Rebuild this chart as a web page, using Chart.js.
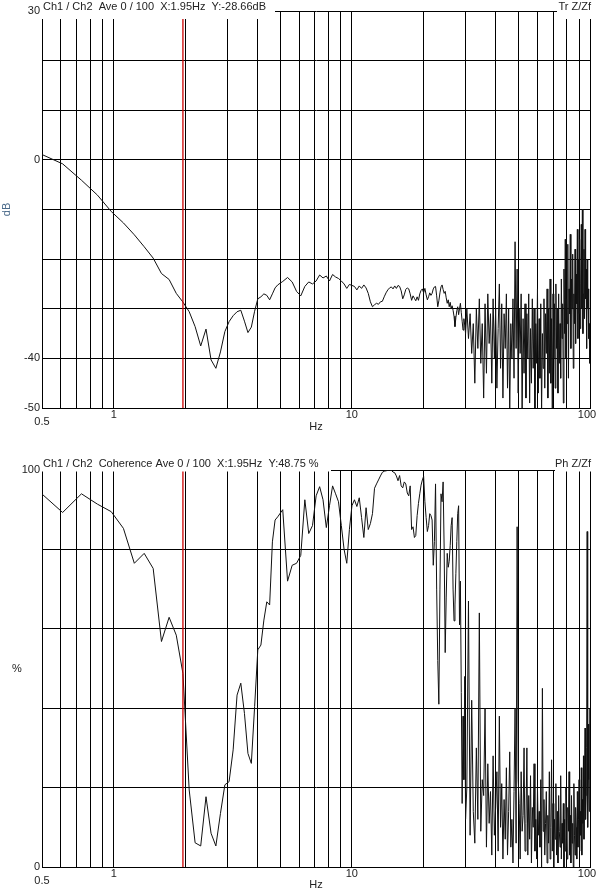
<!DOCTYPE html>
<html><head><meta charset="utf-8">
<script src="https://cdn.jsdelivr.net/npm/chart.js@4/dist/chart.umd.min.js"></script>
<style>
html,body{margin:0;padding:0;background:#fff;overflow:hidden;}
#wrap{position:relative;width:597px;height:892px;}
canvas{position:absolute;left:0;}
#c1{top:0;} #c2{top:445px;}
</style></head><body>
<div id="wrap"><canvas id="c1" width="597" height="445"></canvas><canvas id="c2" width="597" height="447"></canvas></div>
<script>
// FFT bin width (Hz) and the bin segments the values were read at
const DF = 0.1220703125;
const SEG_A = {startBin: 4, step: 1};
const SEG_B = {startBin: 42, step: 2};
const SEG_C = {startBin: 249, step: 4};
const CURSOR_HZ = 16 * DF; // 1.95 Hz

// Transfer function magnitude (dB)
const magA = [1.3, -0.8, -4.1, -7.1, -10.4, -12.7, -15.1, -17.5, -19.8, -22.9, -24.1, -26.9, -28.66, -30.6, -33.6, -37.5, -34.1, -40.3, -42.0, -38.7, -34.6, -32.6, -31.4, -30.6, -30.3, -32.5, -34.8, -33.7, -30.5, -28.0, -27.6, -27.0, -27.3, -28.2, -27.0, -25.8, -25.2];
const magB = [-24.5, -23.7, -24.6, -26.5, -27.4, -25.5, -24.6, -25.0, -24.4, -23.2,
  -23.8, -23.4, -24.4, -23.1, -23.6, -23.9, -24.4, -25.0, -25.9, -25.1,
  -25.3, -25.5, -26.2, -25.4, -25.9, -25.2, -25.8, -26.9, -28.6, -29.6,
  -29.2, -28.9, -29.1, -28.6, -28.5, -27.6, -26.8, -26.2, -25.8, -25.6,
  -26.0, -25.4, -25.9, -25.3, -25.5, -26.4, -28.0, -27.2, -26.1, -25.8,
  -26.0, -27.0, -28.3, -27.4, -27.9, -28.4, -27.6, -28.3, -27.0, -26.3,
  -26.0, -26.8, -25.9, -27.2, -28.2, -27.6, -26.8, -27.3, -26.9, -26.0,
  -25.6, -25.5, -27.4, -29.6, -28.4, -26.8, -25.6, -25.2, -26.1, -26.9,
  -26.5, -27.8, -28.9, -28.2, -29.6, -28.7, -30.0, -29.4, -30.3, -31.5,
  -33.6, -31.8, -30.4, -29.6, -31.2, -30.0, -28.9, -30.8, -32.5, -34.3,
  -32.0, -33.3, -35.0];
const magC = [-30, -36, -31, -39, -33, -45, -30, -38, -28, -41, -33, -48,
  -29, -43, -27, -37, -31, -45, -28, -40, -30, -46, -34, -25,
  -42, -29, -48, -31, -38, -27, -46, -30, -51, -33, -40, -28,
  -44, -16.5, -38, -22, -47, -30, -39, -27, -51, -32, -43, -29,
  -48, -31, -40, -27, -49, -34, -45, -28, -42, -30, -51, -33,
  -41, -26, -47, -32, -44, -29, -51, -35, -42, -28, -46, -31,
  -39, -26, -48, -30, -43, -24, -45, -32, -51, -27, -40, -29,
  -46, -25, -38, -30, -47, -27, -41, -33, -44, -24, -36, -29,
  -49, -22, -35, -16, -40, -28, -33, -17, -44, -26, -31, -15,
  -38, -24, -30, -19, -42, -27, -33, -18, -37, -23, -29, -14,
  -36, -20, -31, -16, -34, -25, -13, -30, -10, -35, -27, -18,
  -32, -14, -28, -22, -38, -20, -30, -26, -36, -33, -41];

// Coherence (%)
const cohA = [94.5, 89.3, 94.0, 91.4, 89.5, 85.3, 76.5, 79.0, 75.2, 56.8, 62.9, 58.4, 48.75, 19.4, 6.1, 5.3, 17.7, 8.5, 5.3, 13.5, 20.7, 21.5, 29.5, 43.3, 46.3, 38.7, 28.6, 26.1, 40.4, 54.7, 55.9, 62.2, 66.8, 66.0, 81.9, 87.4, 88.2];
const cohB = [90.0, 72.0, 76.0, 76.5, 78.5, 92.5, 84.0, 86.0, 93.5, 95.8,
  92.5, 85.5, 91.0, 96.0, 94.0, 92.0, 86.0, 80.0, 76.5, 85.0,
  91.0, 92.5, 90.8, 93.0, 88.0, 83.0, 90.5, 85.0, 86.5, 89.0,
  95.4, 96.5, 97.5, 98.5, 99.4, 99.7, 99.8, 99.9, 100.0, 99.9,
  99.5, 99.3, 98.5, 97.3, 98.6, 96.0, 95.5, 97.0, 96.5, 94.2,
  93.5, 96.0, 85.0, 85.7, 83.0, 83.5, 88.5, 91.6, 94.0, 96.2,
  97.5, 98.4, 92.0, 88.0, 84.5, 86.0, 89.0, 88.5, 87.4, 76.0,
  82.0, 96.5, 70.0, 52.0, 41.0, 70.0, 94.0, 92.0, 97.0, 80.0,
  54.0, 68.0, 79.0, 75.5, 77.0, 81.0, 86.0, 88.0, 70.0, 62.0,
  66.0, 74.0, 82.0, 89.0, 91.0, 61.0, 72.0, 44.0, 16.0, 38.0,
  22.0, 48.0, 12.0];
const cohC = [20, 67, 8, 42, 14, 6, 30, 12, 64, 9, 22, 18,
  40, 5, 26, 11, 19, 3, 28, 8, 15, 24, 4, 38,
  10, 21, 2, 17, 7, 25, 3, 14, 29, 5, 12, 1,
  19, 40, 6, 85.7, 22, 16, 2, 24, 9, 13, 30, 4,
  11, 30, 3, 18, 7, 23, 1, 15, 10, 26, 4, 12,
  2, 20, 8, 14, 5, 22, 0, 45, 9, 17, 3, 11,
  19, 1, 13, 6, 24, 2, 10, 27, 4, 16, 0, 12,
  7, 21, 3, 14, 1, 18, 9, 5, 23, 2, 11, 6,
  16, 0, 12, 4, 20, 7, 2, 15, 9, 24, 3, 13,
  1, 18, 6, 11, 0, 21, 8, 3, 15, 10, 2, 19,
  5, 12, 22, 4, 14, 8, 25, 3, 17, 11, 28, 7,
  20, 35, 12, 18, 30, 84.5, 10, 36, 22, 14, 40];

// Axis ticks
const xTicks = [0.5, 0.6, 0.7, 0.8, 0.9, 1, 2, 3, 4, 5, 6, 7, 8, 9, 10, 20, 30, 40, 50, 60, 70, 80, 90, 100];
const xLabelled = [0.5, 1, 10, 100];
const magTicks = [-50, -40, -30, -20, -10, 0, 10, 20, 30];
const magLabelled = [30, 0, -40, -50];
const cohTicks = [0, 20, 40, 60, 80, 100];
const cohLabelled = [100, 0];

function toPoints(segs) {
  const pts = [];
  segs.forEach(([seg, vals]) => vals.forEach((v, i) => pts.push({x: (seg.startBin + i * seg.step) * DF, y: v})));
  return pts;
}

const FONT = '"Liberation Sans", Arial, sans-serif';

const overlay = {
  id: 'overlay',
  afterDraw(chart, args, o) {
    const ctx = chart.ctx, ca = chart.chartArea;
    const cx = chart.scales.x.getPixelForValue(CURSOR_HZ);
    ctx.save();
    ctx.strokeStyle = '#cc0000'; ctx.lineWidth = 1.3;
    ctx.beginPath(); ctx.moveTo(cx, ca.top); ctx.lineTo(cx, ca.bottom); ctx.stroke();
    ctx.fillStyle = '#fff';
    o.boxes.forEach(b => ctx.fillRect(b[0], b[1], b[2] - b[0], b[3] - b[1]));
    ctx.font = '11px ' + FONT;
    ctx.fillStyle = '#222'; ctx.textBaseline = 'middle';
    ctx.textAlign = 'left'; ctx.fillText(o.header, 43, o.textY);
    ctx.textAlign = 'right'; ctx.fillText(o.right, 591, o.textY);
    if (o.side) { ctx.textAlign = 'center'; ctx.fillText(o.side, 17, (ca.top + ca.bottom) / 2); }
    ctx.restore();
  }
};

function xLabel(v) {
  if (v === 0.5) return ['', '0.5'];
  if (v === 100) return '100  ';
  return xLabelled.includes(v) ? String(v) : '';
}

function makeChart(id, cfg) {
  return new Chart(document.getElementById(id), {
    type: 'line',
    data: {datasets: [{data: cfg.points, borderColor: '#111', borderWidth: 1, pointRadius: 0, tension: 0, fill: false}]},
    options: {
      animation: false, responsive: false, devicePixelRatio: 1, parsing: false,
      layout: {padding: {top: cfg.padTop, right: 7, left: 0, bottom: 0}},
      plugins: {legend: {display: false}, tooltip: {enabled: false}, overlay: cfg.overlay},
      scales: {
        x: {
          type: 'logarithmic', min: 0.5, max: 100,
          afterBuildTicks: s => { s.ticks = xTicks.map(v => ({value: v})); },
          afterFit: s => { s.height = cfg.xHeight; s.paddingLeft = 0; s.paddingRight = 0; },
          grid: {color: '#000', lineWidth: 1, drawTicks: false},
          border: {display: true, color: '#000', width: 1},
          ticks: {autoSkip: false, maxRotation: 0, minRotation: 0, padding: 3, color: '#222',
            font: {family: FONT, size: 11, lineHeight: 0.64},
            callback: xLabel},
          title: {display: true, text: 'Hz', color: '#222', font: {family: FONT, size: 11}, padding: {top: 0, bottom: cfg.hzPad}}
        },
        y: {
          type: 'linear', min: cfg.yMin, max: cfg.yMax,
          afterBuildTicks: s => { s.ticks = cfg.yTicks.map(v => ({value: v})); },
          afterFit: s => { s.width = 42; s.paddingTop = 0; s.paddingBottom = 0; },
          grid: {color: '#000', lineWidth: 1, drawTicks: false},
          border: {display: true, color: '#000', width: 1},
          ticks: {autoSkip: false, padding: 2, color: '#222', font: {family: FONT, size: 11},
            callback: v => cfg.yLabelled.includes(v) ? String(v) : ''},
          title: {display: cfg.yTitle !== '', text: cfg.yTitle, color: '#4a6a8a', font: {family: FONT, size: 11}, padding: {top: 0, bottom: 0}}
        }
      }
    },
    plugins: [overlay]
  });
}

makeChart('c1', {
  points: toPoints([[SEG_A, magA], [SEG_B, magB], [SEG_C, magC]]),
  padTop: 11, xHeight: 37, hzPad: 11,
  yMin: -50, yMax: 30, yTicks: magTicks, yLabelled: magLabelled, yTitle: 'dB',
  overlay: {boxes: [[41, 0, 275, 19], [557, 0, 597, 19]], header: 'Ch1 / Ch2  Ave 0 / 100  X:1.95Hz  Y:-28.66dB', right: 'Tr Z/Zf', textY: 7}
});
makeChart('c2', {
  points: toPoints([[SEG_A, cohA], [SEG_B, cohB], [SEG_C, cohC]]),
  padTop: 25, xHeight: 25, hzPad: 0,
  yMin: 0, yMax: 100, yTicks: cohTicks, yLabelled: cohLabelled, yTitle: '',
  overlay: {boxes: [[41, 12, 331, 26.5], [555, 12, 597, 26.5]], header: 'Ch1 / Ch2  Coherence Ave 0 / 100  X:1.95Hz  Y:48.75 %', right: 'Ph Z/Zf', textY: 19, side: '%'}
});
</script>
</body></html>
